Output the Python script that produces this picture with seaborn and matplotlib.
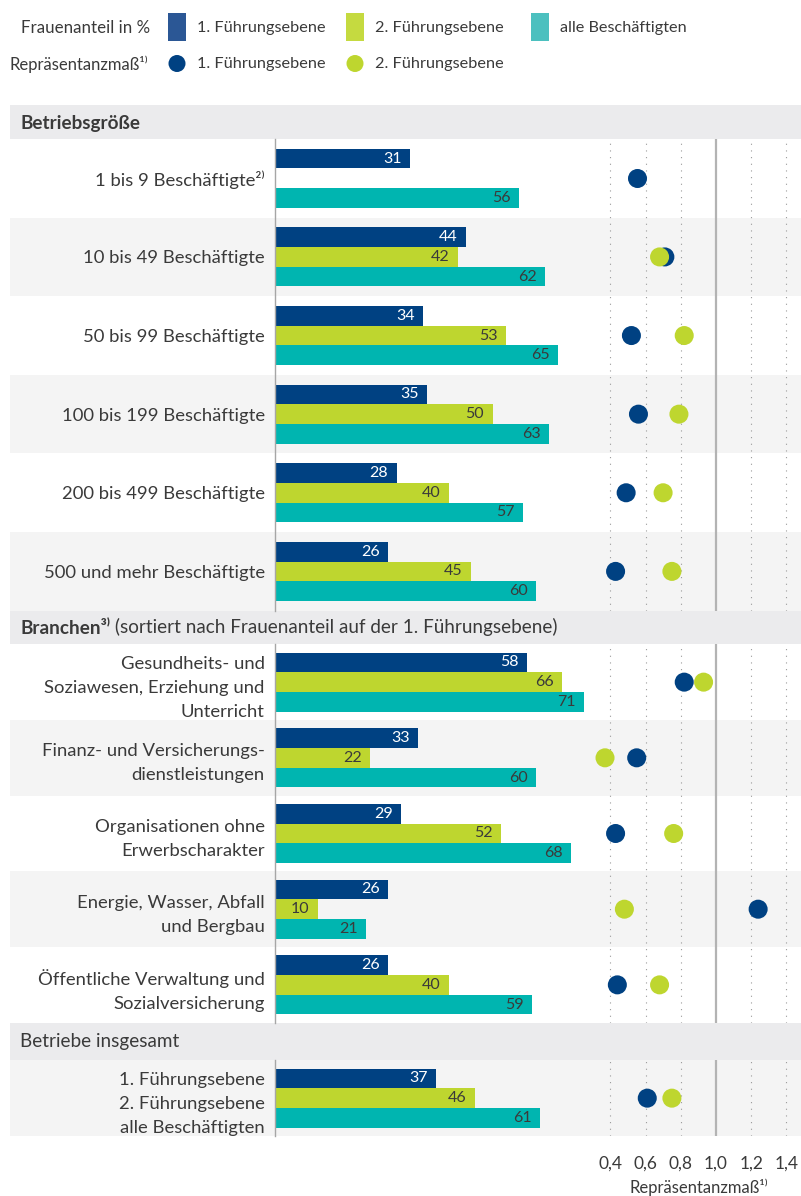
"""
Frauenanteil und Repräsentanzmaß in Führungsebenen, nach Betriebsgröße und Branchen
"""

import numpy as np
import pandas as pd
import seaborn as sns
import matplotlib.pyplot as plt
from matplotlib.patches import Rectangle, Circle

# data
ebenen = ["1. Führungsebene", "2. Führungsebene", "alle Beschäftigten"]

groesse_labels = ["1 bis 9 Beschäftigte²⁾", "10 bis 49 Beschäftigte", "50 bis 99 Beschäftigte",
                  "100 bis 199 Beschäftigte", "200 bis 499 Beschäftigte",
                  "500 und mehr Beschäftigte"]
groesse_fe1 = [31, 44, 34, 35, 28, 26]
groesse_fe2 = [np.nan, 42, 53, 50, 40, 45]
groesse_alle = [56, 62, 65, 63, 57, 60]
groesse_rm1 = [0.55, 0.71, 0.52, 0.56, 0.49, 0.43]
groesse_rm2 = [np.nan, 0.68, 0.82, 0.79, 0.70, 0.75]

branchen_labels = ["Gesundheits- und\nSoziawesen, Erziehung und\nUnterricht",
                   "Finanz- und Versicherungs-\ndienstleistungen",
                   "Organisationen ohne\nErwerbscharakter",
                   "Energie, Wasser, Abfall\nund Bergbau",
                   "Öffentliche Verwaltung und\nSozialversicherung"]
branchen_fe1 = [58, 33, 29, 26, 26]
branchen_fe2 = [66, 22, 52, 10, 40]
branchen_alle = [71, 60, 68, 21, 59]
branchen_rm1 = [0.82, 0.55, 0.43, 1.24, 0.44]
branchen_rm2 = [0.93, 0.37, 0.76, 0.48, 0.68]

gesamt_labels = ["1. Führungsebene\n2. Führungsebene\nalle Beschäftigten"]
gesamt_fe1 = [37]
gesamt_fe2 = [46]
gesamt_alle = [61]
gesamt_rm1 = [0.61]
gesamt_rm2 = [0.75]

rm_ticks = [0.4, 0.6, 0.8, 1.0, 1.2, 1.4]
rm_ticklabels = ["0,4", "0,6", "0,8", "1,0", "1,2", "1,4"]

# styling
W, H = 801, 1196
X0 = 274.5            # left edge of the plot area in px
PX_PER_PCT = 4.36
RM_ZERO_PX, PX_PER_RM = 539.9, 176.0
BAR_PX = 19.7
TXT = "#3a3a3a"
HEAD_GRAY = "#ebebed"
ROW_GRAY = "#f4f4f4"
bar_colors = ["#004182", "#bed62f", "#00b5b0"]
label_colors = ["white", TXT, TXT]
dot_colors = ["#004182", "#bed62f"]
swatch_colors = ["#2b5795", "#c5da40", "#4cc0bf"]

sns.set_theme(style="white")
plt.rcParams["font.family"] = ["Lato", "DejaVu Sans"]
plt.rcParams["text.color"] = TXT

fig = plt.figure(figsize=(W / 100, H / 100), dpi=100)

# background layer in pixel coordinates: legend and section headers
bg = fig.add_axes([0, 0, 1, 1])
bg.set_xlim(0, W)
bg.set_ylim(H, 0)
bg.axis("off")
bg.set_zorder(-1)


def section(top, bottom, labels, fe1, fe2, alle, rm1, rm2, gray_rows, with_scale=False):
    n = len(labels)
    ax = fig.add_axes([X0 / W, 1 - bottom / H, (W - X0) / W, (bottom - top) / H])
    ax.patch.set_visible(False)

    bars = pd.DataFrame({"label": labels * 3,
                         "ebene": np.repeat(ebenen, n),
                         "anteil": fe1 + fe2 + alle})
    width = BAR_PX * 3 / ((bottom - top) / n)
    sns.barplot(data=bars, x="anteil", y="label", hue="ebene", order=labels,
                hue_order=ebenen, palette=bar_colors, saturation=1, width=width,
                gap=0, errorbar=None, orient="h", legend=False, ax=ax,
                edgecolor="none", linewidth=0)

    for i in gray_rows:
        ax.axhspan(i - 0.5, i + 0.5, xmin=(10 - X0) / (W - X0), xmax=1,
                   color=ROW_GRAY, lw=0, zorder=0, clip_on=False)

    for cont, col in zip(ax.containers, label_colors):
        texts = ax.bar_label(cont, labels=[f"{v:.0f}" for v in cont.datavalues],
                             padding=-6, color=col, fontsize=11.5)
        for t in texts:
            t.set_ha("right")

    ax.set_xlim(0, (W - X0) / PX_PER_PCT)
    ax.set_xlabel("")
    ax.set_ylabel("")
    for s in ["top", "right", "bottom"]:
        ax.spines[s].set_visible(False)
    ax.spines["left"].set_color("#a6a6a6")
    ax.spines["left"].set_linewidth(1)

    # Repräsentanzmaß on a second x scale
    ax2 = ax.twiny()
    dots = pd.DataFrame({"label": labels * 2,
                         "ebene": np.repeat(ebenen[:2], n),
                         "rm": rm1 + rm2})
    sns.stripplot(data=dots, x="rm", y="label", hue="ebene", order=labels,
                  hue_order=ebenen[:2], palette=dot_colors, jitter=False, size=13.7,
                  linewidth=0, legend=False, ax=ax2, zorder=4)
    ax2.set_xlim((X0 - RM_ZERO_PX) / PX_PER_RM, (W - RM_ZERO_PX) / PX_PER_RM)
    ax2.set_ylim(n - 0.5, -0.5)
    for v in rm_ticks:
        if v == 1.0:
            ax2.axvline(v, color="#b3b3b3", lw=1.6, zorder=1)
        else:
            ax2.axvline(v, color="#9a9a9a", lw=0.8, ls=(0, (1, 5)), zorder=1)
    for s in ax2.spines.values():
        s.set_visible(False)
    ax2.set_xlabel("")
    ax2.set_ylabel("")
    ax2.set_xticks(rm_ticks)
    ax2.set_xticklabels(rm_ticklabels)
    ax2.xaxis.tick_bottom()
    ax2.tick_params(axis="x", length=0, pad=14, labelsize=12.5, labelcolor=TXT,
                    labelbottom=with_scale, labeltop=False)
    if with_scale:
        ax2.annotate("Repräsentanzmaß¹⁾", xy=(0.9, 0), xycoords=("data", "axes fraction"),
                     xytext=(0, -37), textcoords="offset points", ha="center", va="center",
                     fontsize=12, color=TXT, annotation_clip=False)

    # twiny switches the bottom ticks back on, so hide them afterwards
    ax.tick_params(axis="x", bottom=False, labelbottom=False, top=False, labeltop=False)
    ax.tick_params(axis="y", length=0, pad=7, labelsize=13.3, labelcolor=TXT)
    for t in ax.get_yticklabels():
        t.set_linespacing(1.62)
    return ax


def header(top, bottom):
    bg.add_patch(Rectangle((10, top), W - 10, bottom - top, color=HEAD_GRAY, lw=0))


# legend
bg.text(150, 28, "Frauenanteil in %", ha="right", va="center", fontsize=12.2)
bg.text(148, 64, "Repräsentanzmaß¹⁾", ha="right", va="center", fontsize=12)
for x, col, lab in zip([168, 346, 531], swatch_colors, ebenen):
    bg.add_patch(Rectangle((x, 13), 18, 27.5, color=col, lw=0))
    bg.text(x + 29, 28, lab, ha="left", va="center", fontsize=11.7)
for x, col, lab in zip([168, 346], dot_colors, ebenen[:2]):
    bg.add_patch(Circle((x + 9, 63.5), 8.5, color=col, lw=0))
    bg.text(x + 29, 64, lab, ha="left", va="center", fontsize=11.7)

# section headers
header(105, 139)
bg.text(20, 123, "Betriebsgröße", ha="left", va="center", fontsize=13.6, fontweight="bold")
header(610.7, 644.3)
t1 = bg.text(20, 628, "Branchen³⁾", ha="left", va="center", fontsize=13.6, fontweight="bold")
bg.annotate(" (sortiert nach Frauenanteil auf der 1. Führungsebene)", xy=(1, 0),
            xycoords=t1, ha="left", va="bottom", fontsize=13.6)
header(1023.3, 1060.3)
bg.text(20, 1042, "Betriebe insgesamt", ha="left", va="center", fontsize=13.6)

section(139, 610.7, groesse_labels, groesse_fe1, groesse_fe2, groesse_alle,
        groesse_rm1, groesse_rm2, gray_rows=[1, 3, 5])
section(644.3, 1022.7, branchen_labels, branchen_fe1, branchen_fe2, branchen_alle,
        branchen_rm1, branchen_rm2, gray_rows=[1, 3])
section(1060.3, 1136, gesamt_labels, gesamt_fe1, gesamt_fe2, gesamt_alle,
        gesamt_rm1, gesamt_rm2, gray_rows=[0], with_scale=True)

fig.savefig("out.png", dpi=100)
